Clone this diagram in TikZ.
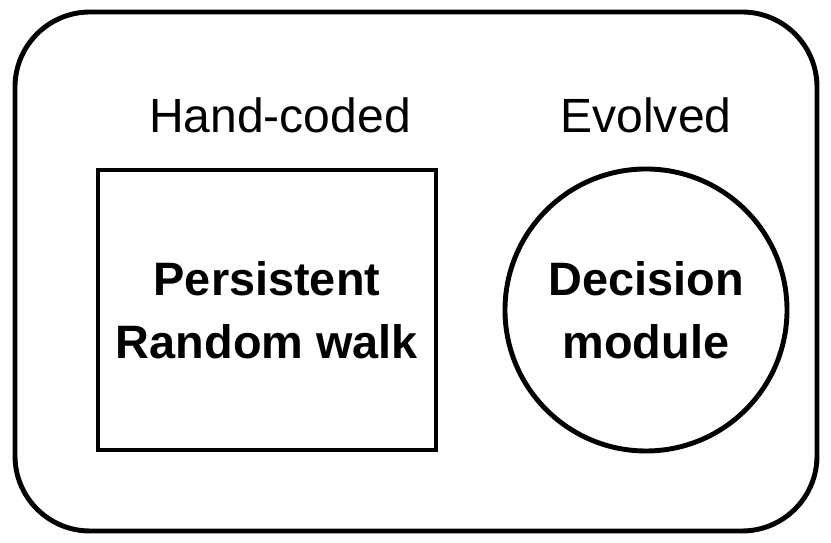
\documentclass[tikz,border=0pt]{standalone}
\usepackage{fontspec}
\setmainfont{Liberation Sans}
\usetikzlibrary{positioning}

\tikzset{
  part/.style={draw,line width=4.2pt,align=center,inner sep=0pt,
    font=\fontsize{40}{54}\selectfont\bfseries},
  tag/.style={anchor=base,font=\fontsize{41}{53}\selectfont}
}

\begin{document}
\begin{tikzpicture}[x=0.03cm,y=0.03cm]
\useasboundingbox (0,0) rectangle (831,543);
% agent frame
\draw[line width=4.2pt,rounded corners=2.25cm] (15,12) rectangle (817,531);
% the two components
\node[part,rectangle,minimum width=10.14cm,minimum height=8.4cm] (prw) at (267,233) {Persistent\\Random walk};
\node[part,circle,minimum size=8.46cm] (dm) at (646,233) {Decision\\module};
% headings over them
\node[tag] (hand) at (280,410) {Hand-coded};
\node[tag] (evo) at (dm.center |- hand.base) {Evolved};
\end{tikzpicture}
\end{document}
